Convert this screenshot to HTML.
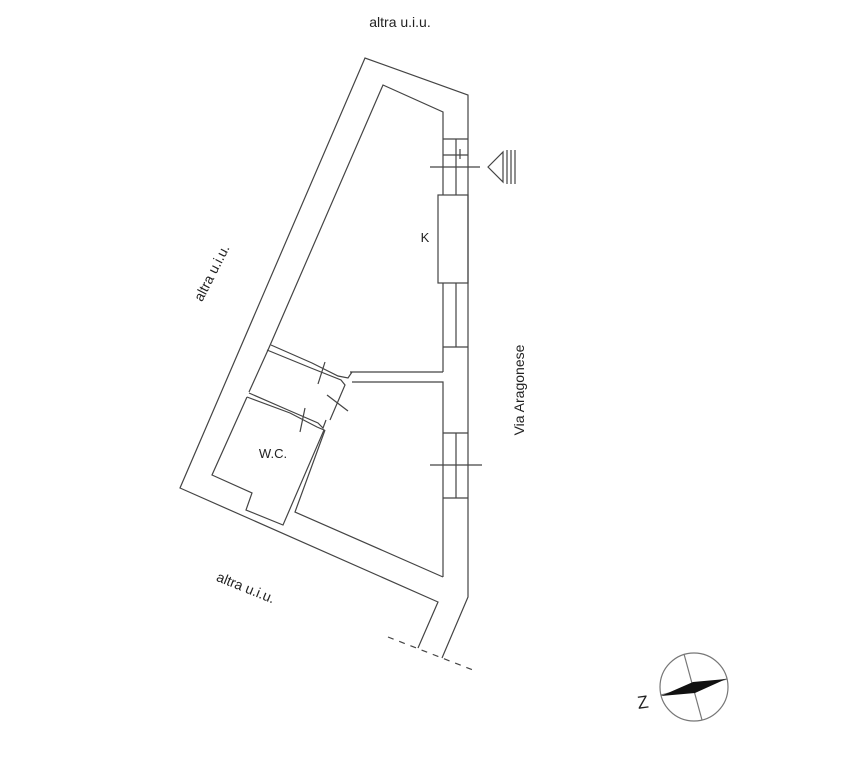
<!DOCTYPE html>
<html><head><style>
html,body{margin:0;padding:0;background:#fff;width:844px;height:768px;overflow:hidden}
text{font-family:"Liberation Sans",sans-serif;fill:#222}
</style></head><body>
<svg width="844" height="768" viewBox="0 0 844 768" xmlns="http://www.w3.org/2000/svg">
<g fill="none" stroke="#444" stroke-width="1.2">
<polyline points="418,648 438,602 180,488 365,58 468,95 468,597 442,658"/>
<polyline points="388,637 473,670" stroke-dasharray="6,6"/>
<polyline points="268,350 383,85 443,112 443,139"/>
<line x1="443" y1="139" x2="468" y2="139"/>
<line x1="443" y1="139" x2="443" y2="195"/>
<line x1="456" y1="139" x2="456" y2="195"/>
<line x1="443" y1="155" x2="468" y2="155"/>
<line x1="430" y1="167" x2="480" y2="167"/>
<line x1="460" y1="149" x2="460" y2="159"/>
<polygon points="488,167 503,152 503,182"/>
<line x1="507" y1="150" x2="507" y2="184"/>
<line x1="511" y1="150" x2="511" y2="184"/>
<line x1="515" y1="150" x2="515" y2="184"/>
<rect x="438" y="195" width="30" height="88"/>
<line x1="443" y1="283" x2="443" y2="372"/>
<line x1="456" y1="283" x2="456" y2="347"/>
<line x1="443" y1="347" x2="468" y2="347"/>
<polyline points="350,372 443,372"/>
<polyline points="352,382 443,382 443,433"/>
<line x1="443" y1="433" x2="468" y2="433"/>
<line x1="443" y1="433" x2="443" y2="498"/>
<line x1="456" y1="433" x2="456" y2="498"/>
<line x1="443" y1="498" x2="468" y2="498"/>
<line x1="430" y1="465" x2="482" y2="465"/>
<line x1="443" y1="498" x2="443" y2="577"/>
<polyline points="443,577 295,512 325,430"/>
<polyline points="271,345 312,363 338,376 348,378 352,372"/>
<polyline points="267,350 311,368 341,380 345,385 330,420"/>
<line x1="268" y1="350" x2="249" y2="392"/>
<line x1="325" y1="362" x2="318" y2="384"/>
<line x1="327" y1="395" x2="348" y2="411"/>
<polyline points="249,393 288,410 318,423 323,428 326,420"/>
<polyline points="247,397 290,413 317,427 324,430 283,525 246,510 252,493 212,475 247,397"/>
<line x1="305" y1="408" x2="300" y2="432"/>
</g>
<g stroke="#777" stroke-width="1.2" fill="none">
<circle cx="694" cy="687" r="34"/>
<line x1="684" y1="654" x2="702" y2="720"/>
<line x1="661" y1="695" x2="727" y2="679"/>
</g>
<polygon points="661,696 693,682 726,679 695,693" fill="#111"/>
<text x="637" y="708" font-size="18" transform="rotate(-8 645 700)">Z</text>
<text x="400" y="27" font-size="14" text-anchor="middle">altra u.i.u.</text>
<text x="216" y="275" font-size="14" text-anchor="middle" transform="rotate(-63 216 275)">altra u.i.u.</text>
<text x="244" y="592" font-size="14" text-anchor="middle" transform="rotate(22 244 592)">altra u.i.u.</text>
<text x="524" y="390" font-size="14" text-anchor="middle" transform="rotate(-90 524 390)">Via Aragonese</text>
<text x="425" y="242" font-size="13" text-anchor="middle">K</text>
<text x="273" y="458" font-size="13" text-anchor="middle">W.C.</text>
</svg>
</body></html>
